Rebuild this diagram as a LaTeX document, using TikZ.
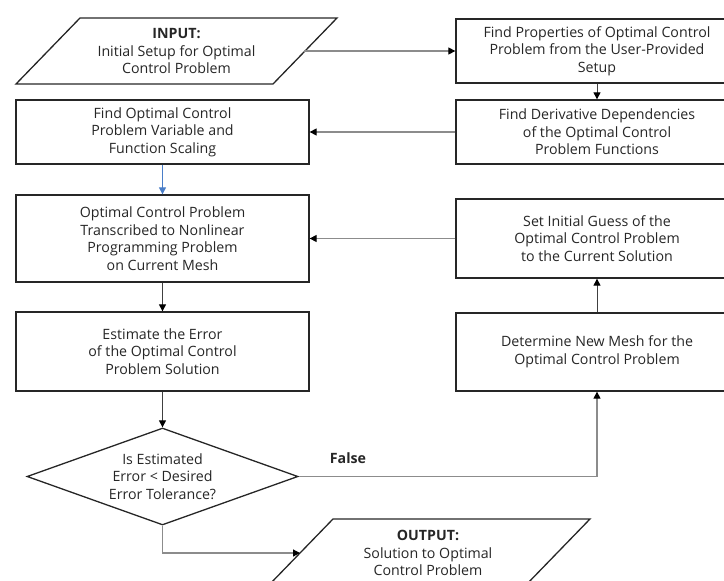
\documentclass[tikz,border=0pt]{standalone}
\usepackage{fontspec}
\setmainfont{Open Sans}
\usetikzlibrary{arrows.meta,shapes.geometric}
\definecolor{boxc}{HTML}{262626}
\definecolor{linec}{HTML}{8C8C8C}
\definecolor{darkline}{HTML}{404040}
\definecolor{bluec}{HTML}{4A7EC8}
\tikzset{
  txt/.style={align=center,font=\fontsize{14.2}{17.6}\selectfont,text=black!85},
  procbox/.style={txt,draw=boxc,line width=1.3pt,rectangle,inner sep=0pt},
  conn/.style={draw=linec,line width=1.2pt,-{Triangle[length=7pt,width=7pt,color=black]}},
  vconn/.style={draw=darkline,line width=1pt,-{Triangle[length=7pt,width=7pt,color=black]}},
}
\begin{document}
\begin{tikzpicture}[x=1pt,y=-1pt]
\useasboundingbox (0,0) rectangle (724,581);
% input parallelogram
\draw[boxc,line width=1.3pt] (80,18) -- (337,18) -- (273,84) -- (16,84) -- cycle;
\node[txt] (input) at (176.5,51) {\textbf{INPUT:}\\Initial Setup for Optimal\\Control Problem};
\coordinate (inR) at (304,51);
% left column
\node[procbox,minimum width=293pt,minimum height=64pt] (scal) at (162.5,132) {Find Optimal Control\\Problem Variable and\\Function Scaling};
\node[procbox,minimum width=293pt,minimum height=87pt] (trans) at (162.5,238.5) {Optimal Control Problem\\Transcribed to Nonlinear\\Programming Problem\\on Current Mesh};
\node[procbox,minimum width=293pt,minimum height=79pt] (est) at (162.5,351.5) {Estimate the Error\\of the Optimal Control\\Problem Solution};
\node[txt,draw=boxc,line width=1.3pt,shape=diamond,minimum width=271pt,minimum height=97pt,inner sep=0pt,aspect=2.8] (dia) at (162.5,476.5) {Is Estimated\\Error < Desired\\Error Tolerance?};
% right column
\node[procbox,minimum width=282pt,minimum height=64pt] (prop) at (597,51) {Find Properties of Optimal Control\\Problem from the User-Provided\\Setup};
\node[procbox,minimum width=282pt,minimum height=64pt] (deriv) at (597,132) {Find Derivative Dependencies\\of the Optimal Control\\Problem Functions};
\node[procbox,minimum width=282pt,minimum height=79pt] (guess) at (597,238.5) {Set Initial Guess of the\\Optimal Control Problem\\to the Current Solution};
\node[procbox,minimum width=282pt,minimum height=78pt] (mesh) at (597,352) {Determine New Mesh for the\\Optimal Control Problem};
% output parallelogram
\draw[boxc,line width=1.3pt] (333,519) -- (590,519) -- (526,585) -- (269,585) -- cycle;
\node[txt] (output) at (428,553) {\textbf{OUTPUT:}\\Solution to Optimal\\Control Problem};
\coordinate (outL) at (300,553);
% connectors
\draw[conn] (inR) -- (prop.west);
\draw[vconn] (prop.south) -- (deriv.north);
\draw[conn] (deriv.west) -- (scal.east);
\draw[draw=bluec,line width=1pt,-{Triangle[length=7pt,width=7pt,color=bluec]}] (scal.south) -- (trans.north);
\draw[conn] (guess.west) -- (trans.east);
\draw[vconn] (trans.south) -- (est.north);
\draw[vconn] (est.south) -- (dia.north);
\draw[conn] (dia.east) -| (mesh.south);
\draw[vconn] (mesh.north) -- (guess.south);
\draw[conn] (dia.south) |- (outL);
\node[txt,font=\fontsize{14.2}{17.6}\selectfont\bfseries] (false) at (348,458) {False};
\end{tikzpicture}
\end{document}
